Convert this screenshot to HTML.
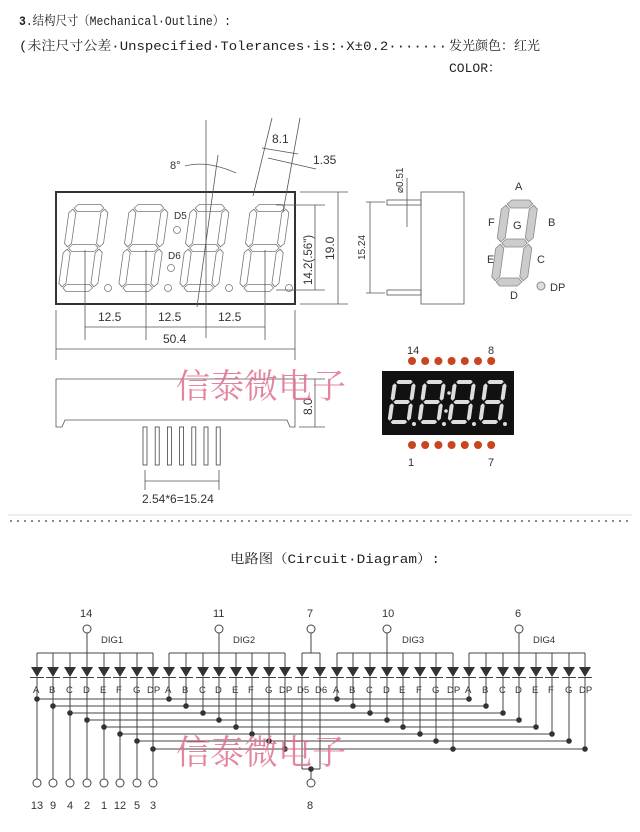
<!DOCTYPE html>
<html><head><meta charset="utf-8"><style>
html,body{margin:0;padding:0;background:#fff;width:640px;height:832px;overflow:hidden}
svg{display:block}
.t{font-family:"Liberation Mono","Noto Serif CJK SC",monospace;font-size:13px;fill:#222}
.s{font-family:"Liberation Sans",sans-serif;font-size:12px;fill:#333}
.n{font-family:"Liberation Sans",sans-serif;font-size:11px;fill:#333}
.l{font-family:"Liberation Sans",sans-serif;font-size:9.5px;fill:#333}
.wm{font-family:"Noto Serif CJK SC",serif;font-size:34px;fill:#e0708e;opacity:.85}
</style></head><body>
<svg id="g" width="640" height="832" viewBox="0 0 640 832" xmlns="http://www.w3.org/2000/svg">
<text class="t" x="19" y="25" textLength="212" lengthAdjust="spacingAndGlyphs"><tspan font-weight="bold">3</tspan>.结构尺寸（Mechanical·Outline）:</text>
<text class="t" x="19" y="50" textLength="428" lengthAdjust="spacingAndGlyphs">(未注尺寸公差·Unspecified·Tolerances·is:·X±0.2·······</text>
<text class="t" x="449" y="50">发光颜色：红光</text>
<text class="t" x="449" y="72">COLOR：</text>

<g id="mech" fill="none" stroke="#333" stroke-width="1">
<rect x="56" y="192" width="239" height="112" stroke-width="2"/>
</g>
<g stroke="#555" stroke-width="0.8" fill="none">
<line x1="85" y1="250" x2="85" y2="340"/><line x1="146" y1="250" x2="146" y2="340"/>
<line x1="206" y1="120" x2="206" y2="338"/><line x1="265" y1="250" x2="265" y2="340"/>
<line x1="85" y1="327" x2="265" y2="327"/>
<line x1="56" y1="310" x2="56" y2="360"/><line x1="295" y1="310" x2="295" y2="360"/>
<line x1="56" y1="349" x2="295" y2="349"/>
<line x1="276" y1="205" x2="325" y2="205"/><line x1="276" y1="290" x2="325" y2="290"/>
<line x1="315" y1="205" x2="315" y2="290"/>
<line x1="300" y1="192" x2="348" y2="192"/><line x1="300" y1="304" x2="348" y2="304"/>
<line x1="338" y1="192" x2="338" y2="304"/>
<line x1="218" y1="155" x2="197" y2="307"/>
<line x1="272" y1="118" x2="253" y2="196"/><line x1="300" y1="118" x2="283" y2="212"/>
<line x1="262" y1="148" x2="298" y2="154"/>
<line x1="268" y1="158" x2="316" y2="169"/>
<path d="M185 166 Q207 160 236 173"/>
<rect x="421" y="192" width="43" height="112"/>
<rect x="387" y="200" width="34" height="5"/><rect x="387" y="290" width="34" height="5"/>
<line x1="366" y1="202" x2="385" y2="202"/><line x1="366" y1="293" x2="385" y2="293"/>
<line x1="370" y1="202" x2="370" y2="293"/>
<line x1="407" y1="178" x2="407" y2="227"/>
<path d="M56 379 H295 V427 H290 L287 420 H65 L62 427 H56 Z"/>
<line x1="299" y1="379" x2="325" y2="379"/><line x1="299" y1="427" x2="325" y2="427"/>
<line x1="315" y1="379" x2="315" y2="427"/>
<line x1="145" y1="470" x2="145" y2="490"/><line x1="219" y1="470" x2="219" y2="490"/>
<line x1="145" y1="481" x2="219" y2="481"/>
</g>
<g id="pins" fill="#fff" stroke="#444" stroke-width="0.8"></g>
<g class="s">
<text x="98" y="321">12.5</text><text x="158" y="321">12.5</text><text x="218" y="321">12.5</text>
<text x="163" y="343">50.4</text>
<text x="170" y="169" font-size="11">8°</text>
<text x="272" y="143">8.1</text><text x="313" y="164">1.35</text>
<text x="174" y="219" font-size="10">D5</text><text x="168" y="259" font-size="10">D6</text>
<text transform="translate(312,285) rotate(-90)" font-size="11.5">14.2(.56")</text>
<text transform="translate(334,260) rotate(-90)">19.0</text>
<text transform="translate(365,260) rotate(-90)" font-size="10">15.24</text>
<text transform="translate(403,193) rotate(-90)" font-size="10">⌀0.51</text>
<text transform="translate(312,415) rotate(-90)">8.0</text>
<text x="142" y="503">2.54*6=15.24</text>
</g>
<g class="n" font-size="10">
<text x="515" y="190">A</text><text x="488" y="226">F</text><text x="513" y="229">G</text><text x="548" y="226">B</text>
<text x="487" y="263">E</text><text x="537" y="263">C</text><text x="510" y="299">D</text><text x="550" y="291">DP</text>
<text x="407" y="354">14</text><text x="488" y="354">8</text><text x="408" y="466">1</text><text x="488" y="466">7</text>
</g>
<rect x="382" y="371" width="132" height="64" fill="#111"/>
<g id="segs"></g>
<g id="dots" fill="#c8461f"></g>

<line x1="8" y1="515" x2="632" y2="515" stroke="#ddd"/>
<line x1="10" y1="521" x2="630" y2="521" stroke="#888" stroke-width="2" stroke-dasharray="2 5"/>
<text class="t" x="230" y="563" textLength="210" lengthAdjust="spacingAndGlyphs">电路图（Circuit·Diagram）:</text>

<g id="circ" stroke="#444" stroke-width="1" fill="none"></g>
<g id="cfill" fill="#333"></g>
<g class="n" font-size="12">
<text x="80" y="617">14</text><text x="213" y="617">11</text><text x="307" y="617">7</text><text x="382" y="617">10</text><text x="515" y="617">6</text>
<text x="307" y="809">8</text>
<g text-anchor="middle">
<text x="37" y="809">13</text><text x="53" y="809">9</text><text x="70" y="809">4</text><text x="87" y="809">2</text>
<text x="104" y="809">1</text><text x="120" y="809">12</text><text x="137" y="809">5</text><text x="153" y="809">3</text>
</g>
</g>
<g class="l">
<text x="101" y="643">DIG1</text><text x="233" y="643">DIG2</text><text x="402" y="643">DIG3</text><text x="533" y="643">DIG4</text>
</g>
<g id="seglab" class="l"></g>
<text class="wm" x="176" y="398">信泰微电子</text>
<text class="wm" x="176" y="764">信泰微电子</text>
</svg>
<script>
var NS="http://www.w3.org/2000/svg";
function el(p,t,a){var e=document.createElementNS(NS,t);for(var k in a)e.setAttribute(k,a[k]);p.appendChild(e);return e;}
var mech=document.getElementById("mech"),segs=document.getElementById("segs");
function hs(x,y,L,t){return [[x,y],[x+t/2,y-t/2],[x+L-t/2,y-t/2],[x+L,y],[x+L-t/2,y+t/2],[x+t/2,y+t/2]];}
function vs(x,y,L,t){return [[x,y],[x+t/2,y+t/2],[x+t/2,y+L-t/2],[x,y+L],[x-t/2,y+L-t/2],[x-t/2,y+t/2]];}
function digit(par,tx,ty,W,H,t,st){
 var grp=el(par,"g",{transform:"translate("+tx+","+ty+") skewX(-8)"});
 var gp=1.2,h=H/2;
 var S=[hs(gp,0,W-2*gp,t),hs(gp,h,W-2*gp,t),hs(gp,H,W-2*gp,t),vs(0,gp,h-2*gp,t),vs(W,gp,h-2*gp,t),vs(0,h+gp,h-2*gp,t),vs(W,h+gp,h-2*gp,t)];
 S.forEach(function(p){var a={points:p.map(function(q){return q.join(",")}).join(" ")};for(var k in st)a[k]=st[k];el(grp,"polygon",a);});
}
var ms={fill:"none",stroke:"#777","stroke-width":"0.8","stroke-linejoin":"round"};
[73,133,194,254].forEach(function(x){digit(mech,x,208,32,80,7,ms);});
[[108,288],[168,288],[229,288],[289,288],[177,230],[171,268]].forEach(function(c){el(mech,"circle",{cx:c[0],cy:c[1],r:3.5,stroke:"#777","stroke-width":"0.8"});});
digit(segs,506,204,28,78,8,{fill:"#ccc",stroke:"#888","stroke-width":"0.8"});
el(segs,"circle",{cx:541,cy:286,r:4,fill:"#ddd",stroke:"#888"});
[392,422,452,483].forEach(function(x){digit(segs,x+3,382,19,40,4,{fill:"#ddd",stroke:"none"});el(segs,"circle",{cx:x+22,cy:424,r:2,fill:"#ddd"});});
el(segs,"circle",{cx:449,cy:393,r:1.8,fill:"#ddd"});el(segs,"circle",{cx:446,cy:411,r:1.8,fill:"#ddd"});
var dots=document.getElementById("dots");
for(var i=0;i<7;i++){var x=412+i*13.2;el(dots,"circle",{cx:x,cy:361,r:4});el(dots,"circle",{cx:x,cy:445,r:4});}
var pins=document.getElementById("pins");
for(var i=0;i<7;i++){el(pins,"rect",{x:143+i*12.2,y:427,width:4,height:38});}
var C=document.getElementById("circ"),F=document.getElementById("cfill"),SL=document.getElementById("seglab");
var D=[[37,53,70,87,104,120,137,153],[169,186,203,219,236,252,269,285],[337,353,370,387,403,420,436,453],[469,486,503,519,536,552,569,585]];
var LY=[699,706,713,720,727,734,741,749];
function line(a,b,c,d){el(C,"line",{x1:a,y1:b,x2:c,y2:d});}
function diode(x){el(F,"polygon",{points:(x-6)+",667 "+(x+6)+",667 "+x+",677"});line(x-7,677.5,x+7,677.5);line(x,653,x,667);}
function dot(x,y){el(F,"circle",{cx:x,cy:y,r:2.8});}
var names=["A","B","C","D","E","F","G","DP"];
D.forEach(function(arr){line(arr[0],653,arr[7],653);arr.forEach(function(x,i){diode(x);
 var t=el(SL,"text",{x:x-(i==7?6:4),y:693});t.textContent=names[i];});});
[[87,0],[219,1],[387,2],[519,3]].forEach(function(p){line(p[0],633,p[0],653);el(C,"circle",{cx:p[0],cy:629,r:4});});
for(var i=0;i<8;i++){line(D[0][i],LY[i],D[3][i],LY[i]);line(D[0][i],677,D[0][i],779);el(C,"circle",{cx:D[0][i],cy:783,r:4});
 for(var k=0;k<4;k++){dot(D[k][i],LY[i]);if(k>0)line(D[k][i],677,D[k][i],LY[i]);}}
diode(302);diode(320);line(302,653,320,653);line(311,633,311,653);el(C,"circle",{cx:311,cy:629,r:4});
["D5","D6"].forEach(function(n,i){var t=el(SL,"text",{x:297+i*18,y:693});t.textContent=n;});
line(302,677,302,769);line(320,677,320,769);line(302,769,320,769);dot(311,769);line(311,769,311,779);el(C,"circle",{cx:311,cy:783,r:4});
</script>
</body></html>
